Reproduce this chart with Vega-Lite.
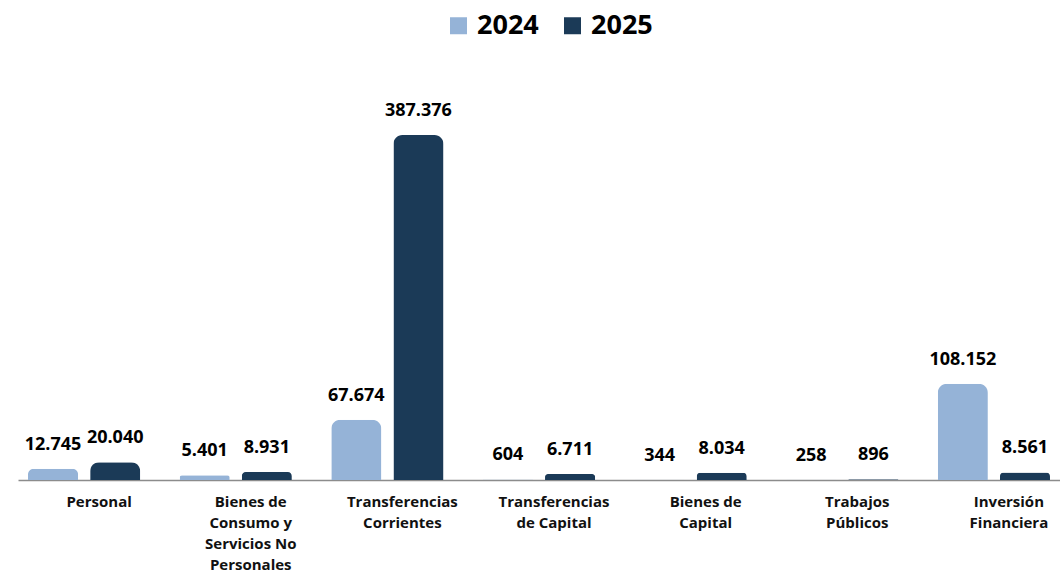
{
  "$schema": "https://vega.github.io/schema/vega-lite/v6.json",
  "width": 1042,
  "height": 400,
  "autosize": {"type": "none"},
  "padding": {"left": 18, "top": 80, "right": 0, "bottom": 92},
  "background": "white",
  "config": {
    "view": {"stroke": null},
    "font": "Open Sans"
  },
  "data": {
    "values": [
      {"categoria": "Personal", "anio": "2024", "valor": 12745, "etiqueta": "12.745"},
      {"categoria": "Personal", "anio": "2025", "valor": 20040, "etiqueta": "20.040"},
      {"categoria": "Bienes de Consumo y Servicios No Personales", "anio": "2024", "valor": 5401, "etiqueta": "5.401"},
      {"categoria": "Bienes de Consumo y Servicios No Personales", "anio": "2025", "valor": 8931, "etiqueta": "8.931"},
      {"categoria": "Transferencias Corrientes", "anio": "2024", "valor": 67674, "etiqueta": "67.674"},
      {"categoria": "Transferencias Corrientes", "anio": "2025", "valor": 387376, "etiqueta": "387.376"},
      {"categoria": "Transferencias de Capital", "anio": "2024", "valor": 604, "etiqueta": "604"},
      {"categoria": "Transferencias de Capital", "anio": "2025", "valor": 6711, "etiqueta": "6.711"},
      {"categoria": "Bienes de Capital", "anio": "2024", "valor": 344, "etiqueta": "344"},
      {"categoria": "Bienes de Capital", "anio": "2025", "valor": 8034, "etiqueta": "8.034"},
      {"categoria": "Trabajos Públicos", "anio": "2024", "valor": 258, "etiqueta": "258"},
      {"categoria": "Trabajos Públicos", "anio": "2025", "valor": 896, "etiqueta": "896"},
      {"categoria": "Inversión Financiera", "anio": "2024", "valor": 108152, "etiqueta": "108.152"},
      {"categoria": "Inversión Financiera", "anio": "2025", "valor": 8561, "etiqueta": "8.561"}
    ]
  },
  "encoding": {
    "x": {
      "field": "categoria",
      "type": "nominal",
      "sort": null,
      "scale": {"paddingInner": 0.26, "paddingOuter": 0.066},
      "axis": {
        "title": null,
        "labelAngle": 0,
        "ticks": false,
        "domainColor": "#8c8c8c",
        "domainWidth": 1.5,
        "labelFontSize": 15,
        "labelFontWeight": "bold",
        "labelColor": "#111111",
        "labelPadding": 21,
        "labelOffset": 15,
        "labelLineHeight": 21,
        "labelBaseline": "middle",
        "labelLimit": 300,
        "labelExpr": "datum.label == 'Bienes de Consumo y Servicios No Personales' ? ['Bienes de', 'Consumo y', 'Servicios No', 'Personales'] : datum.label == 'Transferencias Corrientes' ? ['Transferencias', 'Corrientes'] : datum.label == 'Transferencias de Capital' ? ['Transferencias', 'de Capital'] : datum.label == 'Bienes de Capital' ? ['Bienes de', 'Capital'] : datum.label == 'Trabajos Públicos' ? ['Trabajos', 'Públicos'] : datum.label == 'Inversión Financiera' ? ['Inversión', 'Financiera'] : datum.label"
      }
    },
    "xOffset": {
      "field": "anio",
      "type": "nominal",
      "scale": {"paddingInner": 0.194, "paddingOuter": 0}
    },
    "y": {
      "field": "valor",
      "type": "quantitative",
      "scale": {"domain": [0, 449132], "nice": false},
      "axis": null
    }
  },
  "layer": [
    {
      "mark": {"type": "bar", "cornerRadiusTopLeft": 9, "cornerRadiusTopRight": 9},
      "encoding": {
        "color": {
          "field": "anio",
          "type": "nominal",
          "scale": {"domain": ["2024", "2025"], "range": ["#95b3d7", "#1b3a57"]},
          "legend": {
            "title": null,
            "orient": "none",
            "legendX": 427,
            "legendY": -68,
            "direction": "horizontal",
            "symbolType": "square",
            "symbolSize": 289,
            "symbolStrokeWidth": 0,
            "labelFontSize": 27,
            "labelFontWeight": "bold",
            "labelColor": "#000000",
            "labelOffset": 5,
            "columnPadding": 20
          }
        }
      }
    },
    {
      "mark": {
        "type": "text",
        "baseline": "middle",
        "dy": -24,
        "fontSize": 18,
        "fontWeight": "bold",
        "color": "#000000"
      },
      "encoding": {
        "text": {"field": "etiqueta", "type": "nominal"}
      }
    }
  ]
}
